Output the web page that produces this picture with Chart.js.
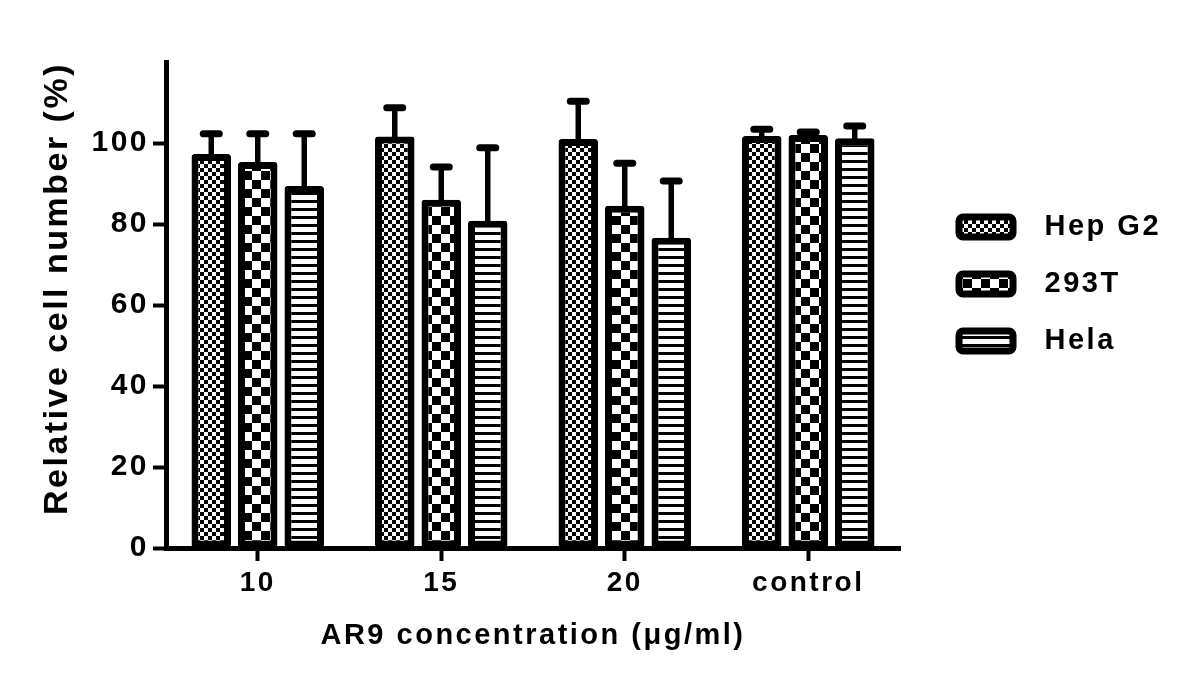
<!DOCTYPE html>
<html>
<head>
<meta charset="utf-8">
<script src="https://cdn.jsdelivr.net/npm/chart.js@4.4.1/dist/chart.umd.min.js"></script>
<style>
  html, body { margin: 0; padding: 0; background: #fff; }
  #wrap { width: 1200px; height: 687px; }
</style>
</head>
<body>
<div id="wrap"><canvas id="cellChart"></canvas></div>
<script>
// data (bar tops and SD)
const categories = ['10', '15', '20', 'control'];
const seriesNames = ['Hep G2', '293T', 'Hela'];
const hepG2 = [97.3, 101.6, 101.0, 101.7];
const t293 = [95.3, 86.0, 84.5, 102.0];
const hela = [89.4, 80.8, 76.6, 101.2];
const hepG2Err = [5.0, 7.1, 9.3, 1.7];
const t293Err = [7.0, 8.1, 10.5, 0.7];
const helaErr = [12.9, 18.0, 14.0, 3.0];
const yTicks = [0, 20, 40, 60, 80, 100];

const canvas = document.getElementById('cellChart');
const mainCtx = canvas.getContext('2d');

// fill patterns like the GraphPad ones
function makePattern(kind) {
    const c = document.createElement('canvas');
    const g = c.getContext('2d');
    if (kind === 'fine') {
        c.width = 8; c.height = 8;
        g.fillStyle = '#fff'; g.fillRect(0, 0, 8, 8);
        g.fillStyle = '#000';
        g.fillRect(0, 0, 4, 4); g.fillRect(4, 4, 4, 4);
    } else if (kind === 'coarse') {
        c.width = 18; c.height = 18;
        g.fillStyle = '#fff'; g.fillRect(0, 0, 18, 18);
        g.fillStyle = '#000';
        g.fillRect(0, 0, 9, 9); g.fillRect(9, 9, 9, 9);
    } else {
        c.width = 8; c.height = 8;
        g.fillStyle = '#fff'; g.fillRect(0, 0, 8, 8);
        g.fillStyle = '#000';
        g.fillRect(0, 0, 8, 3);
    }
    return mainCtx.createPattern(c, 'repeat');
}

const fills = [makePattern('fine'), makePattern('coarse'), makePattern('stripes')];
const values = [hepG2, t293, hela];
const errors = [hepG2Err, t293Err, helaErr];

// wide letters, as in the original
const spacingPlugin = {
    id: 'spacing',
    beforeUpdate(chart) { chart.ctx.letterSpacing = '2.5px'; },
    beforeDraw(chart) { chart.ctx.letterSpacing = '2.5px'; }
};

// legend width is capped by maxWidth; widen its clip box so text isn't cut,
// and lift it a little to sit where the original has it
const legendFix = {
    id: 'legendFix',
    afterLayout(chart) {
        if (chart.legend) {
            chart.legend.right += 80;
            chart.legend.width += 80;
            chart.legend.top -= 21;
            chart.legend.bottom -= 21;
        }
    }
};

// SD bars on top of each column
const errorBars = {
    id: 'errorBars',
    afterDatasetsDraw(chart) {
        const c = chart.ctx;
        const yScale = chart.scales.y;
        c.save();
        c.strokeStyle = '#000';
        chart.data.datasets.forEach(function(ds, i) {
            const meta = chart.getDatasetMeta(i);
            meta.data.forEach(function(bar, j) {
                const top = yScale.getPixelForValue(ds.data[j] + ds.errors[j]);
                c.lineWidth = 5.5;
                c.lineCap = 'butt';
                c.beginPath();
                c.moveTo(bar.x, bar.y + 4);
                c.lineTo(bar.x, top);
                c.stroke();
                c.lineWidth = 7;
                c.lineCap = 'round';
                c.beginPath();
                c.moveTo(bar.x - 8, top);
                c.lineTo(bar.x + 8, top);
                c.stroke();
            });
        });
        c.restore();
    }
};

const fontBold = function(size) {
    return { family: '"Liberation Sans", Arial, sans-serif', size: size, weight: 'bold' };
};

new Chart(canvas, {
    type: 'bar',
    data: {
        labels: categories,
        datasets: seriesNames.map(function(name, i) {
            return {
                label: name,
                data: values[i],
                errors: errors[i],
                backgroundColor: fills[i],
                borderColor: '#000',
                borderWidth: 7,
                borderRadius: 3,
                borderSkipped: false,
                categoryPercentage: 0.76,
                barPercentage: 0.85
            };
        })
    },
    options: {
        responsive: true,
        maintainAspectRatio: false,
        animation: false,
        layout: { padding: { top: 62, left: 33, right: 89, bottom: 25 } },
        plugins: {
            legend: {
                position: 'right',
                fullSize: false,
                maxWidth: 180,
                labels: {
                    color: '#000',
                    font: fontBold(29),
                    boxWidth: 54,
                    boxHeight: 20,
                    padding: 28,
                    useBorderRadius: true,
                    borderRadius: 4,
                    generateLabels: function(chart) {
                        const items = Chart.defaults.plugins.legend.labels.generateLabels(chart);
                        items.forEach(function(it) { it.text = '\u2002' + it.text; });
                        return items;
                    }
                }
            },
            tooltip: { enabled: false }
        },
        scales: {
            x: {
                offset: true,
                grid: {
                    offset: false,
                    drawOnChartArea: false,
                    drawTicks: true,
                    tickLength: 13,
                    tickWidth: 4,
                    tickColor: '#000'
                },
                border: { color: '#000', width: 5 },
                ticks: { color: '#000', font: fontBold(28), padding: 5 },
                title: {
                    display: true,
                    text: 'AR9 concentration (μg/ml)',
                    color: '#000',
                    font: fontBold(29),
                    padding: { top: 4, bottom: 9 }
                },
                afterFit: function(s) { s.height = 114; }
            },
            y: {
                min: 0,
                max: 120,
                afterBuildTicks: function(s) {
                    s.ticks = yTicks.map(function(v) { return { value: v }; });
                },
                grid: {
                    drawOnChartArea: false,
                    drawTicks: true,
                    tickLength: 13,
                    tickWidth: 4,
                    tickColor: '#000'
                },
                border: { color: '#000', width: 5 },
                ticks: { color: '#000', font: fontBold(30), padding: 4 },
                title: {
                    display: true,
                    text: 'Relative cell number (%)',
                    color: '#000',
                    font: fontBold(34),
                    align: 'end',
                    padding: 4
                },
                afterFit: function(s) { s.width = 133; }
            },
            gap: {
                type: 'linear',
                axis: 'y',
                position: 'right',
                display: true,
                ticks: { display: false },
                grid: { display: false },
                border: { display: false },
                afterFit: function(s) { s.width = 31; }
            }
        }
    },
    plugins: [spacingPlugin, legendFix, errorBars]
});
</script>
</body>
</html>
